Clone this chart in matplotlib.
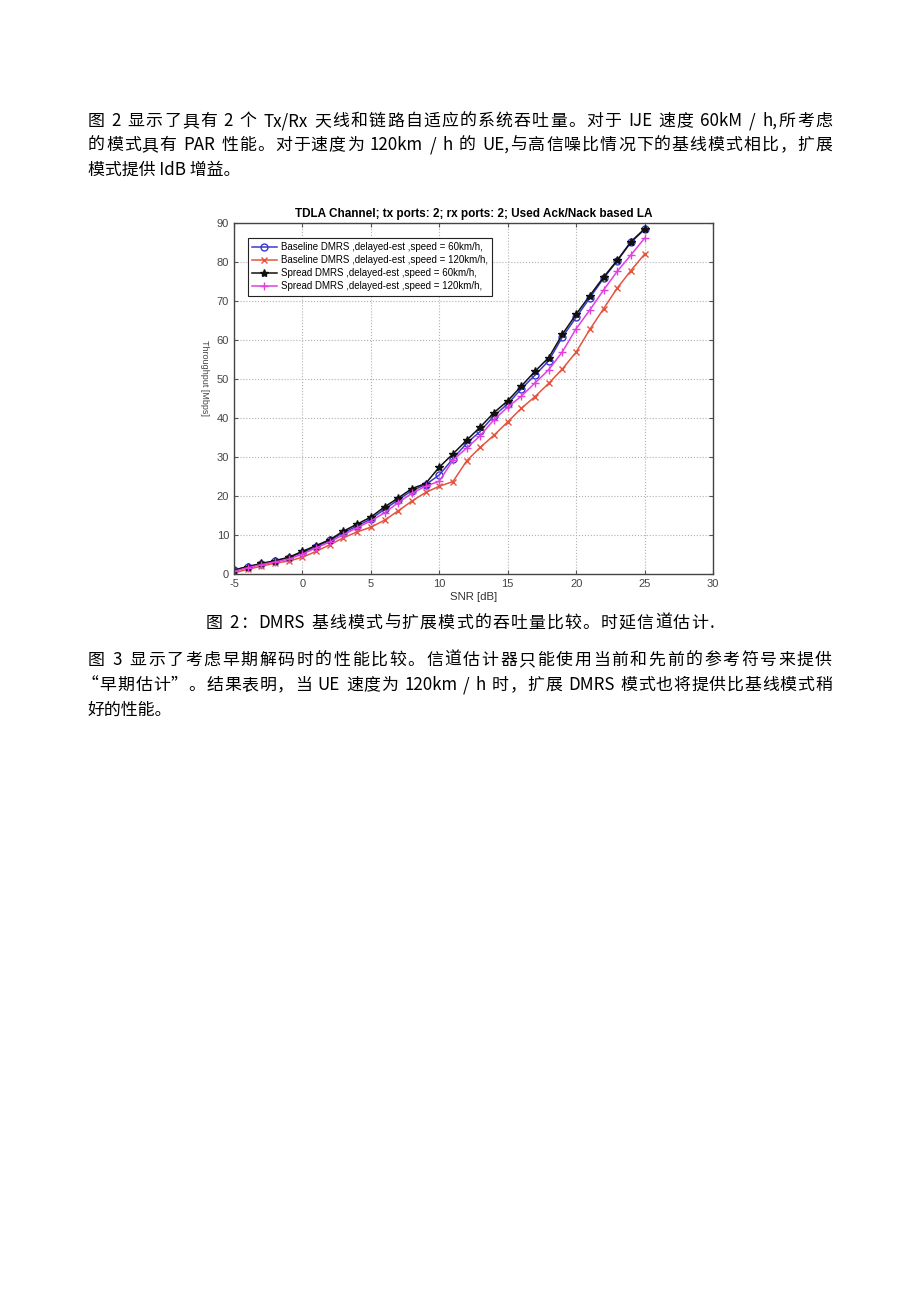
import re
import matplotlib
matplotlib.use('Agg')
import matplotlib.pyplot as plt

# chart data
snr = list(range(-5, 26))
base60 = [1.0, 1.9, 2.6, 3.4, 4.2, 5.5, 7.0, 8.6, 10.6, 12.3, 14.1, 16.6, 19.0, 21.4, 22.9, 25.4,
          29.6, 33.5, 36.6, 40.6, 43.6, 47.5, 51.0, 54.7, 60.8, 65.8, 70.8, 75.8, 80.3, 85.0, 88.4]
base120 = [0.3, 1.2, 2.0, 2.8, 3.3, 4.3, 5.8, 7.5, 9.3, 10.8, 12.0, 13.8, 16.2, 18.7, 20.9, 22.5,
           23.7, 29.0, 32.5, 35.6, 39.0, 42.5, 45.5, 48.9, 52.6, 56.9, 62.7, 68.0, 73.3, 77.8, 82.0]
spread60 = [1.0, 1.9, 2.7, 3.4, 4.3, 5.8, 7.3, 8.8, 11.0, 12.8, 14.6, 17.2, 19.5, 21.9, 23.2, 27.4,
            30.8, 34.3, 37.7, 41.4, 44.4, 48.2, 52.0, 55.5, 61.5, 66.6, 71.4, 76.1, 80.4, 85.2, 88.5]
spread120 = [0.7, 1.6, 2.4, 3.1, 3.8, 5.1, 6.7, 8.2, 10.1, 11.9, 13.6, 15.7, 18.3, 20.7, 22.5, 23.8,
             29.2, 32.3, 35.5, 39.6, 42.8, 45.6, 49.0, 52.4, 57.0, 62.9, 67.7, 72.8, 77.6, 81.8, 86.1]
labels = ['Baseline DMRS ,delayed-est ,speed = 60km/h,',
          'Baseline DMRS ,delayed-est ,speed = 120km/h,',
          'Spread DMRS ,delayed-est ,speed = 60km/h,',
          'Spread DMRS ,delayed-est ,speed = 120km/h,']
xticks = [-5, 0, 5, 10, 15, 20, 25, 30]
yticks = list(range(0, 91, 10))

para1 = ['图 2 显示了具有 2 个 Tx/Rx 天线和链路自适应的系统吞吐量。对于 IJE 速度 60kM / h,所考虑',
         '的模式具有 PAR 性能。对于速度为 120km / h 的 UE,与高信噪比情况下的基线模式相比，扩展',
         '模式提供 IdB 增益。']
caption = '图 2：DMRS 基线模式与扩展模式的吞吐量比较。时延信道估计.'
para2 = ['图 3 显示了考虑早期解码时的性能比较。信道估计器只能使用当前和先前的参考符号来提供',
         '“早期估计”。结果表明，当 UE 速度为 120km / h 时，扩展 DMRS 模式也将提供比基线模式稍',
         '好的性能。']

W, H = 920, 1301
CJK = ['Noto Sans CJK SC', 'DejaVu Sans']
SANS = ['Liberation Sans', 'DejaVu Sans']
plt.rcParams['axes.unicode_minus'] = False

fig = plt.figure(figsize=(W / 100, H / 100), dpi=100)
fig.patch.set_facecolor('white')
renderer = fig.canvas.get_renderer()


def put_line(y, s, x0=88, x1=None, size=12.2):
    # one line of body text; justified between x0 and x1 when x1 is given
    if x1 is None:
        fig.text(x0 / W, 1 - y / H, s, fontsize=size, family=CJK, va='center', ha='left')
        return
    tokens = re.findall(r'[A-Za-z0-9/.,\-]+|\s|.', s)
    items = []
    for tok in tokens:
        if tok.isspace():
            items.append((None, size * 100 / 72 * 0.25))
        else:
            t = fig.text(0, 1 - y / H, tok, fontsize=size, family=CJK, va='center', ha='left')
            items.append((t, t.get_window_extent(renderer=renderer).width))
    total = sum(w for _, w in items)
    gap = (x1 - x0 - total) / max(len(items) - 1, 1)
    x = x0
    for t, w in items:
        if t is not None:
            t.set_x(x / W)
        x += w + gap


put_line(121, para1[0], x1=832)
put_line(145, para1[1], x1=832)
put_line(170, para1[2])
put_line(623, caption, x0=206, x1=714)
put_line(660, para2[0], x1=832)
put_line(685, para2[1], x0=82, x1=832)
put_line(710, para2[2])

# the chart
ax = fig.add_axes([234 / W, 1 - 574 / H, 479 / W, 351 / H])
ax.plot(snr, base60, '-o', color='#3a3acc', mfc='none', ms=5, lw=1.1, label=labels[0])
ax.plot(snr, base120, '-x', color='#e5533d', ms=5, lw=1.1, label=labels[1])
ax.plot(snr, spread60, '-*', color='#111111', ms=6, lw=1.1, label=labels[2])
ax.plot(snr, spread120, '-+', color='#e23ee2', ms=6, lw=1.1, label=labels[3])

ax.set_xlim(-5, 30)
ax.set_ylim(0, 90)
ax.set_xticks(xticks)
ax.set_yticks(yticks)
ax.tick_params(direction='in', length=3, labelsize=8, labelcolor='#444444',
               top=True, right=True, color='#555555')
for lab in ax.get_xticklabels() + ax.get_yticklabels():
    lab.set_family(SANS)
ax.grid(True, linestyle=':', color='#b0b0b0', lw=0.8)
for sp in ax.spines.values():
    sp.set_color('#444444')
    sp.set_linewidth(1.0)

ax.set_title('TDLA Channel; tx ports: 2; rx ports: 2; Used Ack/Nack based LA',
             fontsize=8.5, fontweight='bold', family=SANS, pad=4)
ax.set_xlabel('SNR [dB]', fontsize=8.2, family=SANS, color='#333333', labelpad=2)
fig.text(205 / W, 1 - 378 / H, 'Throughput [Mbps]', fontsize=6.5, family=SANS,
         rotation=270, va='center', ha='center', color='#444444')

leg = ax.legend(loc='upper left', bbox_to_anchor=(0.019, 0.972),
                prop={'family': SANS, 'size': 7.0}, fancybox=False, framealpha=1,
                edgecolor='#222222', handlelength=2.5, labelspacing=0.32,
                borderpad=0.45, handletextpad=0.4)
leg.get_frame().set_linewidth(0.8)

fig.savefig('out.png', dpi=100, facecolor='white')
